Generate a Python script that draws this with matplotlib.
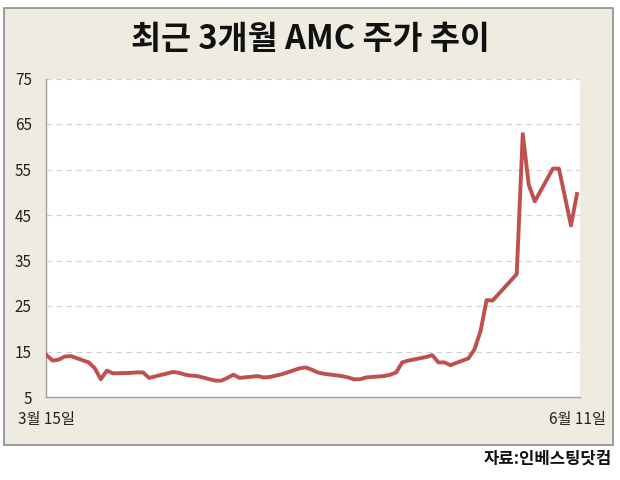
import matplotlib
matplotlib.use("Agg")
import matplotlib.pyplot as plt
import matplotlib.dates as mdates
from matplotlib.patches import Rectangle
import pandas as pd

plt.rcParams['font.family'] = ['Noto Sans CJK KR', 'DejaVu Sans']

title = "최근 3개월 AMC 주가 추이"
source = "자료:인베스팅닷컴"
dates = [
    "2021-03-15", "2021-03-16", "2021-03-17", "2021-03-18", "2021-03-19",
    "2021-03-22", "2021-03-23", "2021-03-24", "2021-03-25", "2021-03-26",
    "2021-03-29", "2021-03-30", "2021-03-31", "2021-04-01",
    "2021-04-05", "2021-04-06", "2021-04-07", "2021-04-08", "2021-04-09",
    "2021-04-12", "2021-04-13", "2021-04-14", "2021-04-15", "2021-04-16",
    "2021-04-19", "2021-04-20", "2021-04-21", "2021-04-22", "2021-04-23",
    "2021-04-26", "2021-04-27", "2021-04-28", "2021-04-29", "2021-04-30",
    "2021-05-03", "2021-05-04", "2021-05-05", "2021-05-06", "2021-05-07",
    "2021-05-10", "2021-05-11", "2021-05-12", "2021-05-13", "2021-05-14",
    "2021-05-17", "2021-05-18", "2021-05-19", "2021-05-20", "2021-05-21",
    "2021-05-24", "2021-05-25", "2021-05-26", "2021-05-27", "2021-05-28",
    "2021-06-01", "2021-06-02", "2021-06-03", "2021-06-04",
    "2021-06-07", "2021-06-08", "2021-06-09", "2021-06-10", "2021-06-11",
]
prices = [
    14.2, 13.0, 13.2, 13.9, 14.0,
    12.6, 11.3, 8.9, 10.8, 10.2,
    10.3, 10.4, 10.4, 9.2,
    10.5, 10.3, 9.9, 9.7, 9.6,
    8.6, 8.6, 9.2, 9.9, 9.2,
    9.6, 9.3, 9.4, 9.7, 10.0,
    11.3, 11.5, 11.0, 10.4, 10.1,
    9.6, 9.3, 8.9, 8.9, 9.3,
    9.6, 9.9, 10.4, 12.6, 13.0,
    13.8, 14.2, 12.6, 12.6, 12.0,
    13.5, 15.5, 19.5, 26.3, 26.2,
    32.0, 62.8, 51.6, 48.0,
    55.2, 55.2, 49.0, 42.7, 49.6,
]
yticks = [5, 15, 25, 35, 45, 55, 65, 75]
xlabels = ["3월 15일", "6월 11일"]

x = mdates.date2num(pd.to_datetime(dates))

fig = plt.figure(figsize=(6.2, 4.8), dpi=100, facecolor="white")
W, H = 620, 480
frame = Rectangle((4 / W, 1 - 445 / H), (612.5 - 4) / W, (445 - 7.5) / H,
                  transform=fig.transFigure, facecolor="#EEEBE0",
                  edgecolor="#8C8C8C", linewidth=1.2, zorder=-5)
fig.patches.append(frame)

ax = fig.add_axes([45.7 / W, 1 - 397 / H, (580 - 45.7) / W, (397 - 78.5) / H])
ax.set_zorder(2)
ax.set_facecolor("white")
ax.plot(x, prices, color="#C0504D", linewidth=2.8, solid_joinstyle="round", zorder=3)

ax.set_ylim(5, 75)
ax.set_yticks(yticks)
ax.set_xlim(x[0] - 0.15, x[-1] + 0.5)
ax.set_xticks([x[0], x[-1]])
ax.set_xticklabels(xlabels)
ax.tick_params(axis="both", length=0, labelsize=11, colors="#222222")
ax.tick_params(axis="y", pad=10)
ax.tick_params(axis="x", pad=10)
for yv in yticks[1:]:
    ax.axhline(yv, color="#D0D0D0", linewidth=0.8, linestyle=(0, (5, 4)), zorder=1)
for s in ["top", "right"]:
    ax.spines[s].set_visible(False)
for s in ["left", "bottom"]:
    ax.spines[s].set_color("#A0A0A0")
    ax.spines[s].set_linewidth(1.0)

fig.text(0.5, 1 - 40 / H, title, ha="center", va="center", fontsize=23.5, fontweight="bold", color="#111111", zorder=3)
fig.text(612 / W, 1 - 459 / H, source, ha="right", va="center", fontsize=12, fontweight="bold", color="#111111", zorder=3)

fig.savefig("out.png", dpi=100, facecolor="white")
